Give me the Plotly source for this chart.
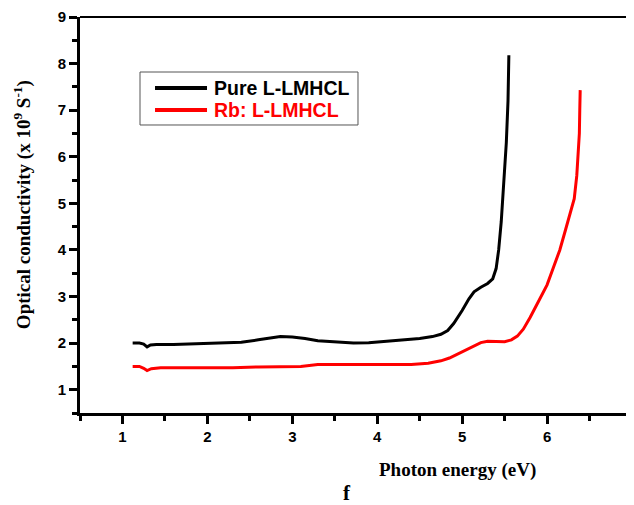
import plotly.graph_objects as go

# Pure L-LMHCL
pure_x = [1.12, 1.2, 1.25, 1.29, 1.33, 1.4, 1.6, 1.8, 2.0, 2.2, 2.4, 2.6, 2.75, 2.86, 3.0, 3.15, 3.3, 3.5, 3.72,
          3.9, 4.1, 4.3, 4.5, 4.65, 4.75, 4.83, 4.9, 5.0, 5.08, 5.14, 5.22, 5.3, 5.36, 5.4, 5.43, 5.46, 5.49,
          5.52, 5.54, 5.55]
pure_y = [2.0, 2.0, 1.98, 1.92, 1.96, 1.97, 1.97, 1.98, 2.0, 2.0, 2.02, 2.07, 2.11, 2.14, 2.13, 2.1, 2.05, 2.02, 2.0,
          2.01, 2.04, 2.07, 2.1, 2.14, 2.19, 2.27, 2.42, 2.7, 2.95, 3.1, 3.2, 3.28, 3.38, 3.6, 4.0, 4.6, 5.35,
          6.3, 7.2, 8.18]

# Rb: L-LMHCL
rb_x = [1.12, 1.2, 1.25, 1.29, 1.34, 1.45, 1.7, 2.0, 2.3, 2.6, 2.9, 3.1, 3.3, 3.5, 3.8, 4.1, 4.4, 4.6, 4.75,
        4.85, 4.95, 5.05, 5.14, 5.22, 5.3, 5.4, 5.5, 5.58, 5.65, 5.72, 5.8, 5.9, 6.0, 6.08, 6.15, 6.22, 6.28,
        6.32, 6.35, 6.37, 6.38, 6.385, 6.39]
rb_y = [1.5, 1.5, 1.46, 1.41, 1.45, 1.47, 1.47, 1.47, 1.47, 1.49, 1.49, 1.5, 1.54, 1.54, 1.53, 1.53, 1.54, 1.57,
        1.62, 1.68, 1.77, 1.87, 1.95, 2.01, 2.04, 2.04, 2.03, 2.07, 2.15, 2.3, 2.55, 2.9, 3.25, 3.65, 4.0, 4.45,
        4.85, 5.1, 5.6, 6.1, 6.5, 7.0, 7.43]

series_names = ["Pure L-LMHCL", "Rb: L-LMHCL"]
series_colors = ["black", "#ff0000"]

x_ticks = [1, 2, 3, 4, 5, 6, 7]
y_ticks = [1, 2, 3, 4, 5, 6, 7, 8, 9]

fig = go.Figure()
fig.add_trace(go.Scatter(x=pure_x, y=pure_y, mode="lines", line=dict(color=series_colors[0], width=3),
                         name=series_names[0], showlegend=False))
fig.add_trace(go.Scatter(x=rb_x, y=rb_y, mode="lines", line=dict(color=series_colors[1], width=3),
                         name=series_names[1], showlegend=False))

tickfont = dict(family="Liberation Sans, Arial", size=15, color="black")
serif = "Liberation Serif, Times New Roman"
sans = "Liberation Sans, Arial"

# legend (drawn box, sample lines and labels)
shapes = [
    dict(type="line", xref="paper", yref="paper", x0=0, x1=1, y0=1, y1=1,
         line=dict(color="black", width=2)),
    dict(type="line", xref="paper", yref="paper", x0=1, x1=1, y0=0, y1=1,
         line=dict(color="black", width=2)),
    dict(type="rect", xref="paper", yref="paper", x0=0.1087, x1=0.5036, y0=0.7273, y1=0.8611,
         line=dict(color="#555555", width=1), fillcolor="white"),
]
annotations = []
legend_rows_y = [0.8207, 0.7652]
for name, color, ly in zip(series_names, series_colors, legend_rows_y):
    shapes.append(dict(type="line", xref="paper", yref="paper", x0=0.1359, x1=0.2301, y0=ly, y1=ly,
                       line=dict(color=color, width=4)))
    annotations.append(dict(text=f"<b>{name}</b>", xref="paper", yref="paper", x=0.2391, y=ly,
                            xanchor="left", yanchor="middle", showarrow=False,
                            font=dict(family=sans, size=19.5, color=color)))

annotations += [
    dict(text="<b>Optical conductivity (x 10<sup>9</sup> S<sup>-1</sup>)</b>", xref="paper", yref="paper",
         x=-0.105, y=0.525, xanchor="center", yanchor="middle", textangle=-90, showarrow=False,
         font=dict(family=serif, size=19, color="black")),
    dict(text="<b>Photon energy (eV)</b>", xref="paper", yref="paper",
         x=0.683, y=-0.144, xanchor="center", yanchor="middle", showarrow=False,
         font=dict(family=serif, size=19, color="black")),
    dict(text="<b>f</b>", xref="paper", yref="paper",
         x=0.484, y=-0.203, xanchor="center", yanchor="middle", showarrow=False,
         font=dict(family=serif, size=21, color="black")),
]

axis_common = dict(ticks="outside", ticklen=8, tickwidth=2.5, ticklabeloverflow="allow", automargin=False,
                   tickcolor="black", showline=True, linewidth=3, linecolor="black", mirror=False,
                   showgrid=False, zeroline=False, tickfont=tickfont,
                   minor=dict(tick0=0.5, dtick=1, ticks="outside", ticklen=5, tickwidth=2.5,
                              tickcolor="black", showgrid=False))

fig.update_layout(
    width=626, height=497,
    margin=dict(l=72, r=2, t=9, b=92),
    paper_bgcolor="white", plot_bgcolor="white",
    showlegend=False,
    xaxis=dict(range=[0.5, 7], tickvals=x_ticks, ticktext=[f"<b>{v}</b>" for v in x_ticks], **axis_common),
    yaxis=dict(range=[0.5, 9], tickvals=y_ticks, ticktext=[f"<b>{v}</b>" for v in y_ticks], **axis_common),
    shapes=shapes,
    annotations=annotations,
)

fig.write_html("out.html")
